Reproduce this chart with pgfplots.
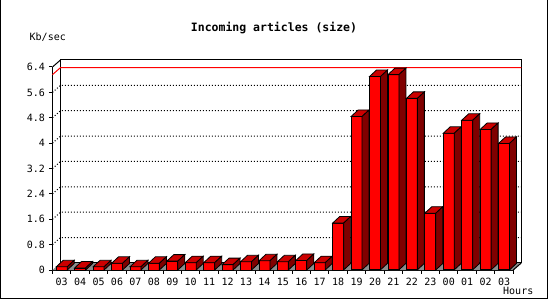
\documentclass[border=0pt]{standalone}
\usepackage{fontspec}
\setmainfont{DejaVu Sans Mono}
\usepackage{pgfplots}
\usepackage{pgfplotstable}
\pgfplotsset{compat=1.18}
\definecolor{barfront}{RGB}{255,0,0}
\definecolor{bartop}{RGB}{204,0,0}
\definecolor{barside}{RGB}{128,0,0}
\definecolor{floorgray}{RGB}{140,140,140}
\pgfplotstableread{
x y
0.5 0.10
1.5 0.065
2.5 0.10
3.5 0.21
4.5 0.10
5.5 0.21
6.5 0.28
7.5 0.23
8.5 0.23
9.5 0.17
10.5 0.26
11.5 0.29
12.5 0.26
13.5 0.30
14.5 0.23
15.5 1.48
16.5 4.84
17.5 6.10
18.5 6.16
19.5 5.41
20.5 1.79
21.5 4.31
22.5 4.72
23.5 4.43
24.5 3.99
}\datatable
\begin{document}
\begin{tikzpicture}
\useasboundingbox (0,0) rectangle (550bp,300bp);
\fill[white] (0,0) rectangle (550bp,300bp);
\draw[line width=1bp] (0.5bp,300bp) -- (0.5bp,1.5bp) -- (547.5bp,1.5bp) -- (547.5bp,300bp);
\node[font=\bfseries\fontsize{11.5bp}{13bp}\selectfont, inner sep=0pt] at (274bp,272bp) {Incoming articles (size)};
\node[font=\fontsize{10bp}{12bp}\selectfont, inner sep=0pt, anchor=west] at (29.5bp,262.5bp) {Kb/sec};
\node[font=\fontsize{10bp}{12bp}\selectfont, inner sep=0pt, anchor=west] at (503bp,9bp) {Hours};
\begin{axis}[
  at={(52.5bp,30bp)}, anchor=origin,
  x=18.43bp, y=31.72bp,
  xmin=0, xmax=25, ymin=0, ymax=6.4,
  clip=false,
  axis x line=bottom, axis y line=left,
  axis line style={-, line width=1bp},
  tick align=outside,
  xtick={0.5,1.5,...,24.5},
  xticklabels={03,04,05,06,07,08,09,10,11,12,13,14,15,16,17,18,19,20,21,22,23,00,01,02,03},
  minor xtick={0,1,...,25},
  major x tick style={draw=none},
  minor tick length=3.5bp,
  major tick length=3.5bp,
  every tick/.style={line width=1bp, black},
  ytick={0,0.8,1.6,2.4,3.2,4,4.8,5.6,6.4},
  yticklabel style={/pgf/number format/fixed, /pgf/number format/precision=1},
  /pgf/number format/assume math mode=true,
  ticklabel style={font=\fontsize{10bp}{12bp}\selectfont},
  xticklabel style={yshift=-1.5bp},
  yticklabel style={xshift=-0.5bp},
]
% floor
\fill[floorgray] (axis cs:0,0) -- (axis cs:25,0) -- ([shift={(8bp,7bp)}]axis cs:25,0) -- ([shift={(8bp,7bp)}]axis cs:0,0) -- cycle;
\draw[line width=1bp] (axis cs:25,0) -- ([shift={(8bp,7bp)}]axis cs:25,0);
% back wall
\draw[line width=1bp, fill=white] ([shift={(8bp,7bp)}]axis cs:0,0) rectangle ([shift={(8bp,7bp)}]axis cs:25,6.4);
% left wall top edge
\draw[line width=1bp] (axis cs:0,6.4) -- ([shift={(8bp,7bp)}]axis cs:0,6.4);
% grid
\pgfplotsinvokeforeach{0.8,1.6,2.4,3.2,4,4.8,5.6}{
  \draw[line width=1bp, dash pattern=on 1bp off 2bp] (axis cs:0,#1) -- ([shift={(8bp,7bp)}]axis cs:0,#1) -- ([shift={(8bp,7bp)}]axis cs:25,#1);
}
% max line
\draw[line width=1bp, red] (axis cs:0,6.16) -- ([shift={(8bp,7bp)}]axis cs:0,6.16) -- ([shift={(8bp,7bp)}]axis cs:25,6.16);
% bars
\addplot[scatter, only marks, mark=*, mark size=0pt,
  point meta=y, point meta min=0, point meta max=6.4,
  scatter/@pre marker code/.code={%
    \pgfmathsetmacro\barh{\pgfplotspointmetatransformed*0.0064*31.72}%
    \filldraw[fill=barfront, draw=black, line width=0.8bp] (-5.5bp,-\barh bp) rectangle (5.5bp,0bp);
    \filldraw[fill=bartop, draw=black, line width=0.8bp] (-5.5bp,0bp) -- (5.5bp,0bp) -- (12.5bp,6.5bp) -- (1.5bp,6.5bp) -- cycle;
    \filldraw[fill=barside, draw=black, line width=0.8bp] (5.5bp,0bp) -- (12.5bp,6.5bp) -- (12.5bp,6.5bp-\barh bp) -- (5.5bp,-\barh bp) -- cycle;
  },
  scatter/@post marker code/.code={},
] table[x=x, y=y] {\datatable};
\end{axis}
\end{tikzpicture}
\end{document}
